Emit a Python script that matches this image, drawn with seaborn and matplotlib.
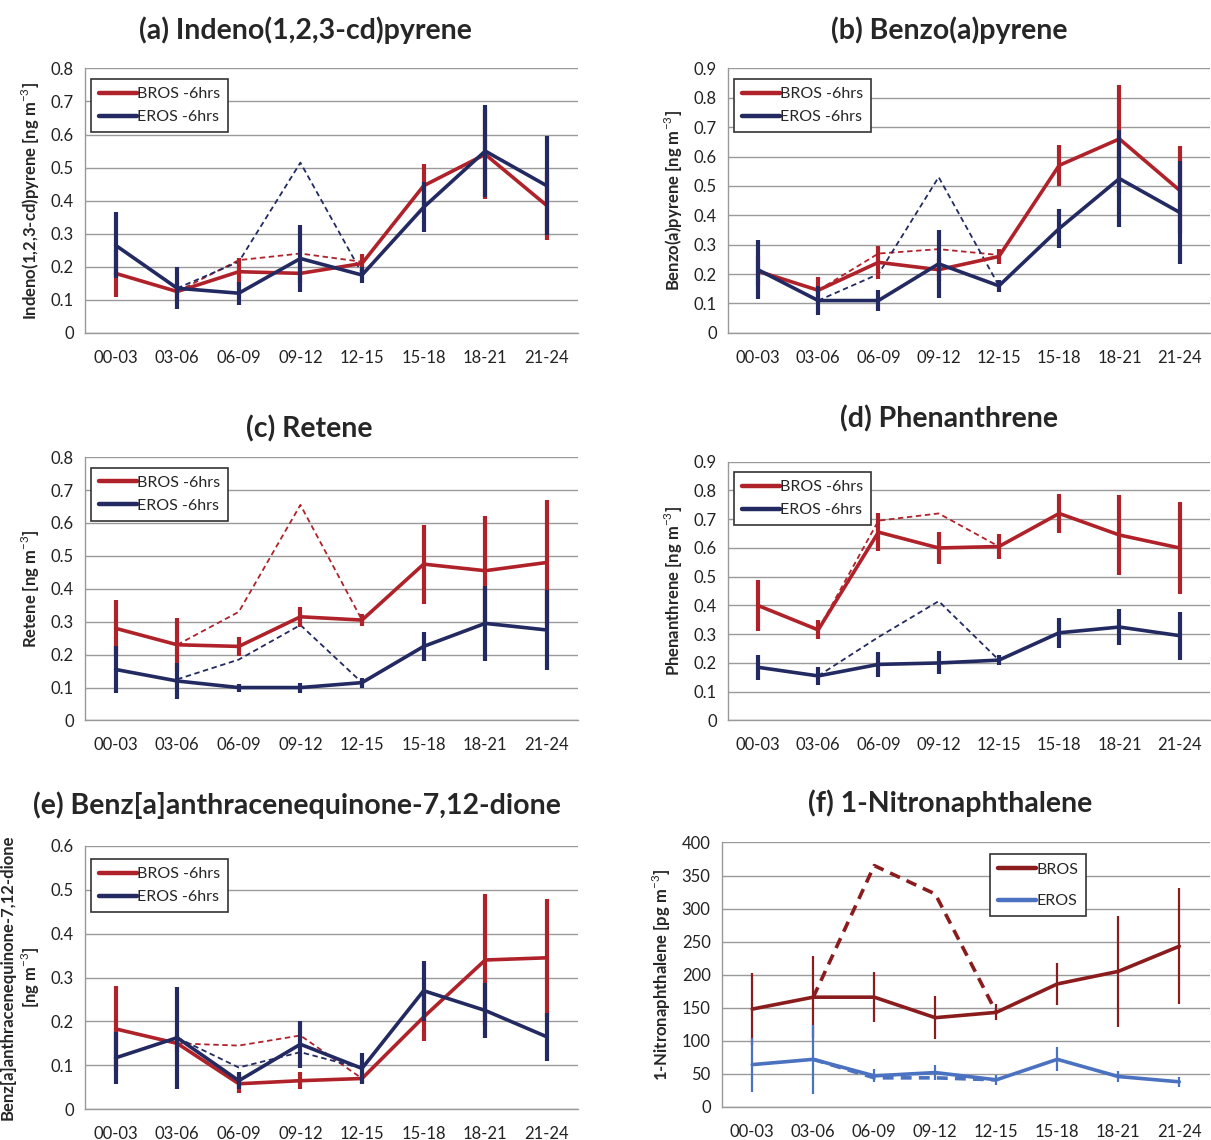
import numpy as np
import pandas as pd
import matplotlib
matplotlib.use("Agg")
import matplotlib.pyplot as plt
from matplotlib.lines import Line2D
from matplotlib.ticker import MultipleLocator, FixedLocator, NullFormatter, FuncFormatter
import seaborn as sns

# ---- data ----
periods = ["00-03", "03-06", "06-09", "09-12", "12-15", "15-18", "18-21", "21-24"]
dash_periods = ["03-06", "06-09", "09-12", "12-15"]

# (a) Indeno(1,2,3-cd)pyrene [ng m-3]
ind_bros = [0.18, 0.125, 0.185, 0.18, 0.21, 0.445, 0.54, 0.385]
ind_bros_err = [0.07, 0.03, 0.04, 0.03, 0.03, 0.065, 0.135, 0.105]
ind_bros_dash = [0.125, 0.22, 0.24, 0.215]
ind_eros = [0.265, 0.135, 0.12, 0.225, 0.175, 0.38, 0.55, 0.445]
ind_eros_err = [0.10, 0.063, 0.035, 0.10, 0.023, 0.075, 0.14, 0.15]
ind_eros_dash = [0.135, 0.215, 0.515, 0.18]

# (b) Benzo(a)pyrene [ng m-3]
bap_bros = [0.21, 0.145, 0.24, 0.215, 0.26, 0.57, 0.66, 0.485]
bap_bros_err = [0.05, 0.045, 0.055, 0.04, 0.025, 0.07, 0.185, 0.15]
bap_bros_dash = [0.145, 0.27, 0.285, 0.265]
bap_eros = [0.215, 0.11, 0.11, 0.235, 0.16, 0.355, 0.525, 0.41]
bap_eros_err = [0.10, 0.05, 0.035, 0.115, 0.02, 0.065, 0.165, 0.175]
bap_eros_dash = [0.11, 0.20, 0.53, 0.16]

# (c) Retene [ng m-3]
ret_bros = [0.28, 0.23, 0.225, 0.315, 0.305, 0.475, 0.455, 0.48]
ret_bros_err = [0.085, 0.08, 0.028, 0.03, 0.017, 0.12, 0.165, 0.19]
ret_bros_dash = [0.23, 0.33, 0.655, 0.305]
ret_eros = [0.155, 0.12, 0.10, 0.10, 0.115, 0.225, 0.295, 0.275]
ret_eros_err = [0.072, 0.055, 0.012, 0.015, 0.015, 0.043, 0.115, 0.122]
ret_eros_dash = [0.125, 0.185, 0.29, 0.115]

# (d) Phenanthrene [ng m-3]
phe_bros = [0.40, 0.315, 0.655, 0.60, 0.605, 0.72, 0.645, 0.60]
phe_bros_err = [0.09, 0.033, 0.065, 0.055, 0.042, 0.068, 0.138, 0.16]
phe_bros_dash = [0.315, 0.695, 0.72, 0.605]
phe_eros = [0.185, 0.155, 0.195, 0.20, 0.21, 0.305, 0.325, 0.295]
phe_eros_err = [0.043, 0.03, 0.043, 0.04, 0.018, 0.053, 0.063, 0.083]
phe_eros_dash = [0.155, 0.29, 0.415, 0.21]

# (e) Benz[a]anthracenequinone-7,12-dione [ng m-3]
baq_bros = [0.183, 0.15, 0.058, 0.065, 0.07, 0.21, 0.34, 0.345]
baq_bros_err = [0.097, 0.02, 0.022, 0.02, 0.01, 0.055, 0.15, 0.135]
baq_bros_dash = [0.15, 0.145, 0.168, 0.07]
baq_eros = [0.117, 0.163, 0.065, 0.148, 0.093, 0.27, 0.225, 0.165]
baq_eros_err = [0.059, 0.116, 0.02, 0.054, 0.035, 0.068, 0.062, 0.055]
baq_eros_dash = [0.163, 0.095, 0.13, 0.093]

# (f) 1-Nitronaphthalene [pg m-3]
nn_bros = [148, 166, 166, 135, 143, 186, 205, 243]
nn_bros_err = [55, 62, 38, 33, 12, 32, 84, 88]
nn_bros_dash = [166, 365, 322, 143]
nn_eros = [64, 72, 47, 52, 41, 72, 46, 38]
nn_eros_err = [41, 52, 10, 11, 8, 18, 9, 8]
nn_eros_dash = [72, 44, 44, 41]

RED = "#B0222A"
NAVY = "#232A62"
RED_F = "#8A1C1E"
BLUE_F = "#4A72C0"

sns.set_style("white")
plt.rcParams["font.family"] = ["Lato", "DejaVu Sans"]
plt.rcParams["mathtext.fontset"] = "custom"
plt.rcParams["mathtext.rm"] = "Lato"
plt.rcParams["mathtext.bf"] = "Lato:bold"

fig = plt.figure(figsize=(12.11, 11.40), dpi=100)

xpos = {p: i for i, p in enumerate(periods)}


def draw_panel(ax, title, ylabel, ymax, ystep, bros, bros_err, bros_dash,
               eros, eros_err, eros_dash, names, colors, widths, legend_at,
               title_pad=21, title_x=0.45, dash_w=(1.3, 1.3), lab_space=0.55):
    x = [xpos[p] for p in periods]
    xd = [xpos[p] for p in dash_periods]
    c_b, c_e = colors
    lw, ew = widths
    # dashed (alternative) series
    sns.lineplot(x=xd, y=bros_dash, ax=ax, color=c_b, linewidth=dash_w[0],
                 linestyle=(0, (3, 2)), zorder=3)
    sns.lineplot(x=xd, y=eros_dash, ax=ax, color=c_e, linewidth=dash_w[1],
                 linestyle=(0, (3, 2)), zorder=3)
    # BROS
    sns.lineplot(x=x, y=bros, ax=ax, color=c_b, linewidth=lw, zorder=4)
    ax.errorbar(x, bros, yerr=bros_err, fmt="none", ecolor=c_b,
                elinewidth=ew, capsize=0, zorder=4)
    # EROS
    sns.lineplot(x=x, y=eros, ax=ax, color=c_e, linewidth=lw, zorder=5)
    ax.errorbar(x, eros, yerr=eros_err, fmt="none", ecolor=c_e,
                elinewidth=ew, capsize=0, zorder=5)

    ax.set_xlim(-0.5, len(periods) - 0.5)
    ax.set_ylim(0, ymax)
    ax.yaxis.set_major_locator(MultipleLocator(ystep))
    ax.yaxis.set_major_formatter(FuncFormatter(lambda v, p: f"{v:g}"))
    ax.xaxis.set_major_locator(FixedLocator(x))
    ax.set_xticklabels(periods)
    ax.xaxis.set_minor_locator(FixedLocator(np.arange(-0.5, len(periods), 1.0)))
    ax.xaxis.set_minor_formatter(NullFormatter())
    ax.tick_params(axis="x", which="major", length=0, pad=12, labelsize=12,
                   colors="#222222")
    ax.tick_params(axis="x", which="minor", length=6, width=1, color="#999999",
                   direction="out")
    ax.tick_params(axis="y", length=0, pad=8, labelsize=12, colors="#222222")
    ax.yaxis.grid(True, color="#9a9a9a", linewidth=1.0)
    ax.set_axisbelow(True)
    for s in ["top", "right"]:
        ax.spines[s].set_visible(False)
    for s in ["left", "bottom"]:
        ax.spines[s].set_color("#999999")
        ax.spines[s].set_linewidth(1.0)
    ax.set_xlabel("")
    ax.set_ylabel(ylabel, fontsize=12, fontweight="bold", labelpad=6)
    ax.set_title(title, fontsize=20.5, fontweight="bold", pad=title_pad,
                 x=title_x)

    handles = [Line2D([], [], color=c_b, linewidth=3.2),
               Line2D([], [], color=c_e, linewidth=3.2)]
    leg = ax.legend(handles, names, loc="upper left", bbox_to_anchor=legend_at,
                    fontsize=11.5, frameon=True, fancybox=False,
                    handlelength=2.4, handletextpad=0.0, borderpad=0.5,
                    labelspacing=lab_space, borderaxespad=0)
    leg.get_frame().set_edgecolor("#333333")
    leg.get_frame().set_linewidth(1.2)
    leg.get_frame().set_facecolor("white")
    leg.get_frame().set_alpha(1)
    leg.set_zorder(10)


names6 = ["BROS -6hrs", "EROS -6hrs"]

ax_a = fig.add_axes([0.070, 0.708, 0.407, 0.232])
draw_panel(ax_a, "(a) Indeno(1,2,3-cd)pyrene",
           "Indeno(1,2,3-cd)pyrene [ng m$^{-3}$]", 0.8, 0.1,
           ind_bros, ind_bros_err, ind_bros_dash,
           ind_eros, ind_eros_err, ind_eros_dash,
           names6, (RED, NAVY), (2.6, 3.0), (0.012, 0.96),
           title_pad=21, title_x=0.447)

ax_b = fig.add_axes([0.601, 0.708, 0.398, 0.232])
draw_panel(ax_b, "(b) Benzo(a)pyrene",
           "Benzo(a)pyrene [ng m$^{-3}$]", 0.9, 0.1,
           bap_bros, bap_bros_err, bap_bros_dash,
           bap_eros, bap_eros_err, bap_eros_dash,
           names6, (RED, NAVY), (2.6, 3.0), (0.012, 0.96),
           title_pad=21, title_x=0.46)

ax_c = fig.add_axes([0.070, 0.368, 0.407, 0.231])
draw_panel(ax_c, "(c) Retene",
           "Retene [ng m$^{-3}$]", 0.8, 0.1,
           ret_bros, ret_bros_err, ret_bros_dash,
           ret_eros, ret_eros_err, ret_eros_dash,
           names6, (RED, NAVY), (2.6, 3.0), (0.012, 0.96),
           title_pad=14, title_x=0.456)

ax_d = fig.add_axes([0.601, 0.368, 0.398, 0.227])
draw_panel(ax_d, "(d) Phenanthrene",
           "Phenanthrene [ng m$^{-3}$]", 0.9, 0.1,
           phe_bros, phe_bros_err, phe_bros_dash,
           phe_eros, phe_eros_err, phe_eros_dash,
           names6, (RED, NAVY), (2.6, 3.0), (0.012, 0.96),
           title_pad=25, title_x=0.458)

ax_e = fig.add_axes([0.070, 0.027, 0.407, 0.231])
draw_panel(ax_e, "(e) Benz[a]anthracenequinone-7,12-dione",
           "Benz[a]anthracenequinone-7,12-dione\n[ng m$^{-3}$]", 0.6, 0.1,
           baq_bros, baq_bros_err, baq_bros_dash,
           baq_eros, baq_eros_err, baq_eros_dash,
           names6, (RED, NAVY), (2.6, 3.0), (0.012, 0.95),
           title_pad=23, title_x=0.43)

ax_f = fig.add_axes([0.596, 0.029, 0.403, 0.232])
draw_panel(ax_f, "(f) 1-Nitronaphthalene",
           "1-Nitronaphthalene [pg m$^{-3}$]", 400, 50,
           nn_bros, nn_bros_err, nn_bros_dash,
           nn_eros, nn_eros_err, nn_eros_dash,
           ["BROS", "EROS"], (RED_F, BLUE_F), (2.6, 1.6), (0.55, 0.955),
           title_pad=22, title_x=0.468, dash_w=(2.6, 2.6), lab_space=1.1)

fig.savefig("out.png", dpi=100)
